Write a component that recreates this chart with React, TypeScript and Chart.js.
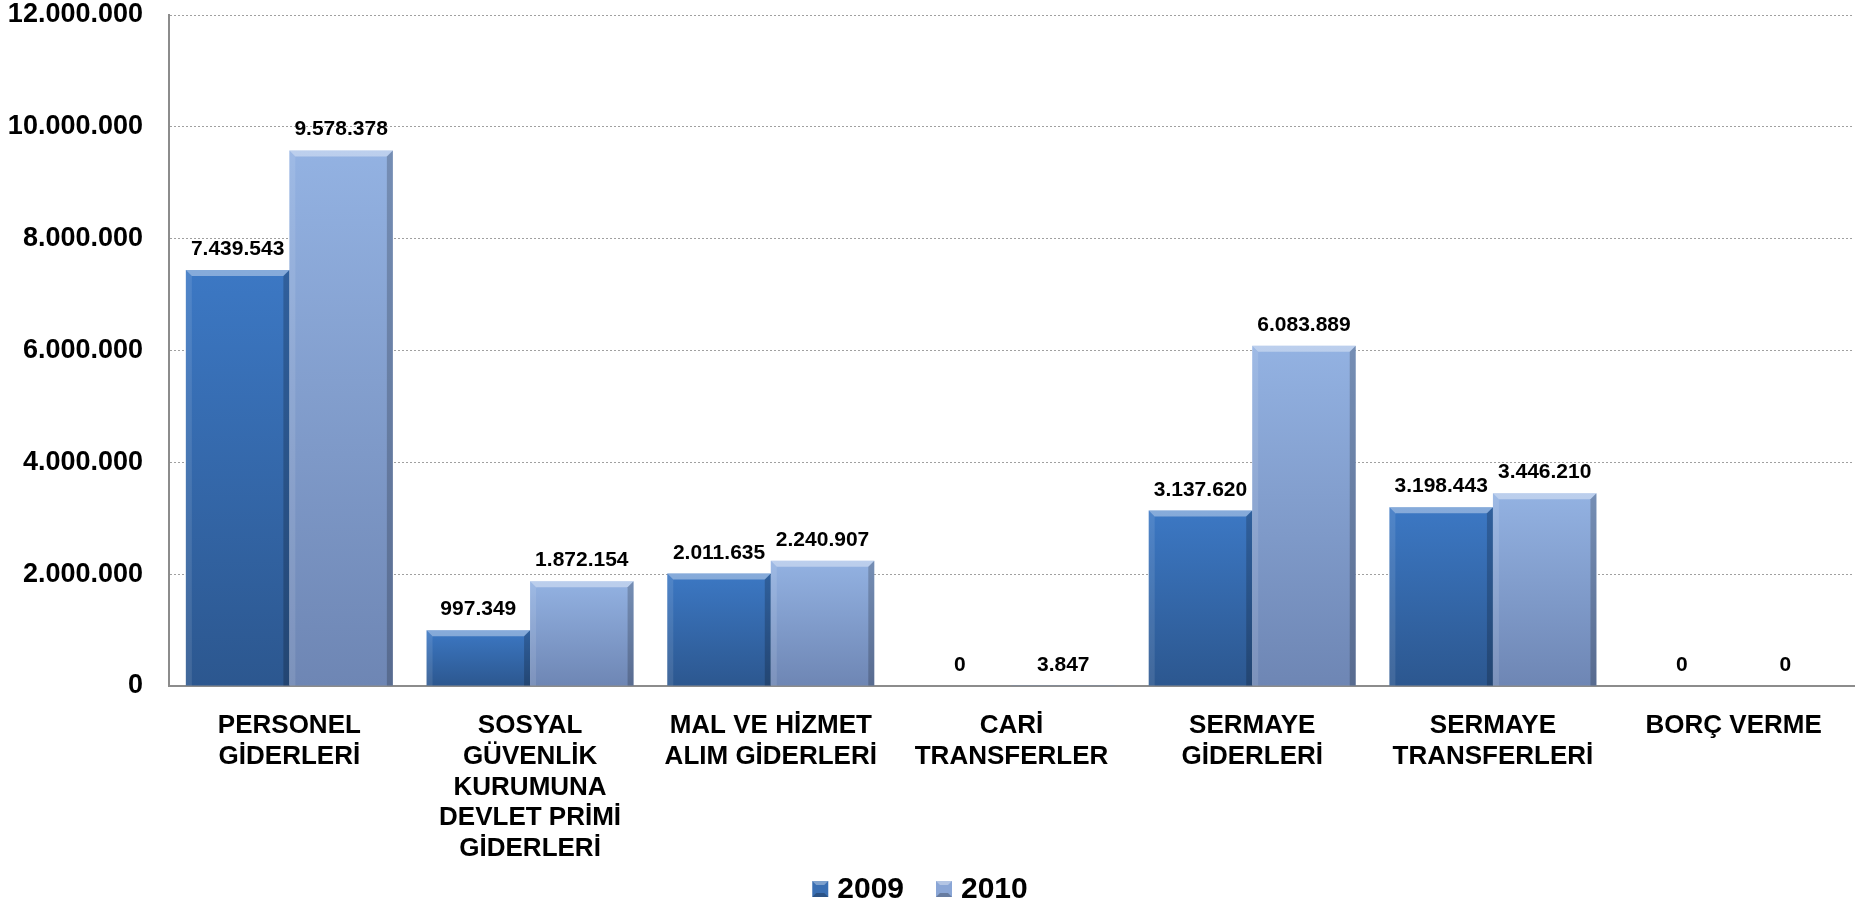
import React, { useEffect, useRef } from "react";
import { Chart, registerables } from "chart.js";

Chart.register(...registerables);

const categories: string[][] = [
  ["PERSONEL", "GİDERLERİ"],
  ["SOSYAL", "GÜVENLİK", "KURUMUNA", "DEVLET PRİMİ", "GİDERLERİ"],
  ["MAL VE HİZMET", "ALIM GİDERLERİ"],
  ["CARİ", "TRANSFERLER"],
  ["SERMAYE", "GİDERLERİ"],
  ["SERMAYE", "TRANSFERLERİ"],
  ["BORÇ VERME"],
];
const seriesNames = ["2009", "2010"];
const values2009 = [7439543, 997349, 2011635, 0, 3137620, 3198443, 0];
const values2010 = [9578378, 1872154, 2240907, 3847, 6083889, 3446210, 0];
const yMin = 0;
const yMax = 12000000;
const yStep = 2000000;

const FONT = "'Liberation Sans', Arial, sans-serif";
const colors = [
  { top: "#3c78c4", bottom: "#2c578f", legend: "#3a6fb3" },
  { top: "#93b2e2", bottom: "#6e86b4", legend: "#8aa6d6" },
];

const fmt = (v: number) => String(Math.round(v)).replace(/\B(?=(\d{3})+(?!\d))/g, ".");

const bevelPlugin = {
  id: "bevel",
  afterDatasetsDraw(chart: any) {
    const ctx = chart.ctx;
    chart.data.datasets.forEach((_: any, di: number) => {
      const meta = chart.getDatasetMeta(di);
      meta.data.forEach((bar: any) => {
        const { x, y, base, width } = bar.getProps(["x", "y", "base", "width"], true);
        const h = base - y;
        if (h < 3) return;
        const l = x - width / 2;
        const r = x + width / 2;
        const b = Math.min(6, h / 2);
        ctx.save();
        ctx.fillStyle = "rgba(255,255,255,0.38)";
        ctx.beginPath();
        ctx.moveTo(l, y);
        ctx.lineTo(r, y);
        ctx.lineTo(r - b, y + b);
        ctx.lineTo(l + b, y + b);
        ctx.closePath();
        ctx.fill();
        ctx.fillStyle = "rgba(255,255,255,0.10)";
        ctx.beginPath();
        ctx.moveTo(l, y);
        ctx.lineTo(l + b, y + b);
        ctx.lineTo(l + b, base);
        ctx.lineTo(l, base);
        ctx.closePath();
        ctx.fill();
        ctx.fillStyle = "rgba(0,0,0,0.20)";
        ctx.beginPath();
        ctx.moveTo(r, y);
        ctx.lineTo(r, base);
        ctx.lineTo(r - b, base);
        ctx.lineTo(r - b, y + b);
        ctx.closePath();
        ctx.fill();
        ctx.restore();
      });
    });
  },
};

const labelPlugin = {
  id: "valueLabels",
  afterDatasetsDraw(chart: any) {
    const ctx = chart.ctx;
    ctx.save();
    ctx.font = `bold 21px ${FONT}`;
    ctx.fillStyle = "#000";
    ctx.textAlign = "center";
    ctx.textBaseline = "alphabetic";
    chart.data.datasets.forEach((ds: any, di: number) => {
      const meta = chart.getDatasetMeta(di);
      meta.data.forEach((bar: any, i: number) => {
        const { x, y } = bar.getProps(["x", "y"], true);
        ctx.fillText(fmt(ds.data[i]), x, y - 15);
      });
    });
    ctx.restore();
  },
};

const legendPlugin = {
  id: "customLegend",
  afterDraw(chart: any) {
    const ctx = chart.ctx;
    ctx.save();
    ctx.font = `bold 30px ${FONT}`;
    ctx.textBaseline = "middle";
    ctx.textAlign = "left";
    const box = 16;
    const gapText = 9;
    const gapItem = 32;
    const widths = seriesNames.map((n) => box + gapText + ctx.measureText(n).width);
    const total = widths.reduce((a, b) => a + b, 0) + gapItem * (seriesNames.length - 1);
    let x = 920 - total / 2;
    const cy = 889;
    seriesNames.forEach((n, i) => {
      const c = colors[i];
      const bx = x;
      const by = cy - box / 2;
      ctx.fillStyle = c.legend;
      ctx.fillRect(bx, by, box, box);
      const b = 4;
      ctx.fillStyle = "rgba(255,255,255,0.35)";
      ctx.beginPath();
      ctx.moveTo(bx, by); ctx.lineTo(bx + box, by); ctx.lineTo(bx + box - b, by + b); ctx.lineTo(bx + b, by + b); ctx.closePath(); ctx.fill();
      ctx.fillStyle = "rgba(0,0,0,0.25)";
      ctx.beginPath();
      ctx.moveTo(bx, by + box); ctx.lineTo(bx + box, by + box); ctx.lineTo(bx + box - b, by + box - b); ctx.lineTo(bx + b, by + box - b); ctx.closePath(); ctx.fill();
      ctx.fillStyle = "#000";
      ctx.fillText(n, bx + box + gapText, cy + 1);
      x += widths[i] + gapItem;
    });
    ctx.restore();
  },
};

function barGradient(ci: number) {
  return (context: any) => {
    const chart = context.chart;
    const { chartArea, scales } = chart;
    if (!chartArea || context.type !== "data") return colors[ci].top;
    const v = context.raw as number;
    const top = scales.y.getPixelForValue(v);
    const base = scales.y.getPixelForValue(0);
    if (!isFinite(top) || base - top < 1) return colors[ci].bottom;
    const g = chart.ctx.createLinearGradient(0, top, 0, base);
    g.addColorStop(0, colors[ci].top);
    g.addColorStop(1, colors[ci].bottom);
    return g;
  };
}

export default function App() {
  const ref = useRef<HTMLCanvasElement | null>(null);
  useEffect(() => {
    if (!ref.current) return;
    const chart = new Chart(ref.current, {
      type: "bar",
      data: {
        labels: categories,
        datasets: [
          {
            label: seriesNames[0],
            data: values2009,
            backgroundColor: barGradient(0),
            borderWidth: 0,
            barPercentage: 1,
            categoryPercentage: 0.86,
          },
          {
            label: seriesNames[1],
            data: values2010,
            backgroundColor: barGradient(1),
            borderWidth: 0,
            barPercentage: 1,
            categoryPercentage: 0.86,
          },
        ],
      },
      options: {
        animation: false,
        responsive: true,
        maintainAspectRatio: false,
        layout: { padding: { top: 0, right: 15, bottom: 50, left: 0 } },
        plugins: {
          legend: { display: false },
          tooltip: { enabled: false },
        },
        scales: {
          x: {
            grid: { display: false, drawTicks: false },
            border: { display: true, color: "#8c8c8c", width: 2 },
            ticks: {
              color: "#000",
              font: { family: FONT, size: 26, weight: "bold", lineHeight: 1.19 },
              padding: 24,
              maxRotation: 0,
              autoSkip: false,
            },
            afterFit: (s: any) => {
              s.height = 170;
              s.paddingTop = 0;
              s.paddingBottom = 0;
            },
          },
          y: {
            min: yMin,
            max: yMax,
            grid: { color: "#a0a0a0", lineWidth: 1, drawTicks: false },
            border: { display: true, color: "#8c8c8c", width: 2, dash: [2, 2] },
            ticks: {
              stepSize: yStep,
              color: "#000",
              font: { family: FONT, size: 27, weight: "bold" },
              padding: 26,
              callback: (v: any) => fmt(Number(v)),
            },
            afterFit: (s: any) => {
              s.width = 169;
              s.paddingTop = 15;
              s.paddingBottom = 0;
            },
          },
        },
      },
      plugins: [bevelPlugin, labelPlugin, legendPlugin],
    });
    return () => chart.destroy();
  }, []);
  return (
    <div style={{ position: "absolute", left: 0, top: 0, width: 1869, height: 906, background: "#fff" }}>
      <canvas ref={ref} />
    </div>
  );
}
